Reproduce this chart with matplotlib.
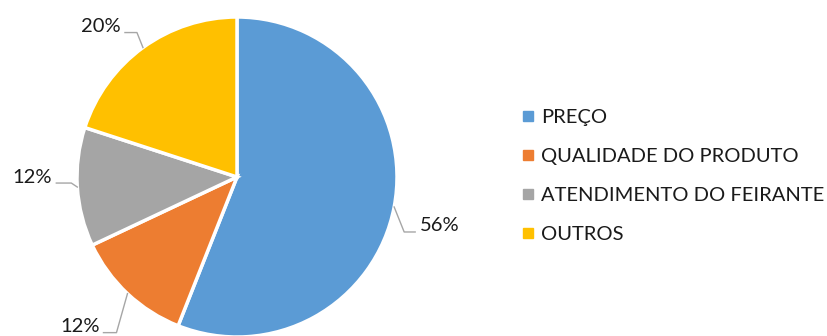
import numpy as np
import matplotlib
matplotlib.use("Agg")
import matplotlib.pyplot as plt
from matplotlib.lines import Line2D

plt.rcParams["font.family"] = ["Lato", "DejaVu Sans"]

categories = ["PREÇO", "QUALIDADE DO PRODUTO", "ATENDIMENTO DO FEIRANTE", "OUTROS"]
shares = [56, 12, 12, 20]
colors = ["#5B9BD5", "#ED7D31", "#A5A5A5", "#FFC000"]

# leader line geometry per label, in pixels: knee offset from wedge edge,
# horizontal run, and which side the text sits on
leaders = [
    ((10, -25), 11, "left"),
    ((-11, -39), -13, "right"),
    ((-6, 4), -15, "right"),
    ((-6, 15), -12, "right"),
]

W, H, DPI = 827, 336, 100
R = 160  # pie radius in pixels
cx, cy = 237, 177
FS = 14.5
TXT = "#1a1a1a"

fig = plt.figure(figsize=(W / DPI, H / DPI), dpi=DPI)
ax = fig.add_axes([(cx - R) / W, (H - cy - R) / H, 2 * R / W, 2 * R / H])

wedges, _ = ax.pie(shares, colors=colors, startangle=90, counterclock=False,
                   radius=1, wedgeprops=dict(edgecolor="white", linewidth=2.5))
ax.set_xlim(-1, 1)
ax.set_ylim(-1, 1)
ax.set_aspect("equal")
ax.axis("off")

for w, val, (knee, run, side) in zip(wedges, shares, leaders):
    mid = np.deg2rad((w.theta1 + w.theta2) / 2)
    ex, ey = np.cos(mid), np.sin(mid)
    kx, ky = ex + knee[0] / R, ey + knee[1] / R
    tx = kx + run / R
    ax.plot([ex, kx, tx], [ey, ky, ky], color="#A6A6A6", lw=1, clip_on=False)
    if side == "left":
        ax.text(tx + 5 / R, ky + 6 / R, f"{val}%", ha="left", va="center",
                fontsize=FS, color=TXT, clip_on=False)
    else:
        ax.text(tx - 4 / R, ky + 6 / R, f"{val}%", ha="right", va="center",
                fontsize=FS, color=TXT, clip_on=False)

handles = [Line2D([], [], marker="s", linestyle="none", markersize=7,
                  markerfacecolor=c, markeredgecolor=c) for c in colors]
fig.legend(handles, categories, loc="center left",
           bbox_to_anchor=(509 / W, 1 - 176 / H), frameon=False,
           fontsize=FS, labelspacing=1.1, handletextpad=0.2,
           handlelength=0.9, borderpad=0, labelcolor=TXT)

fig.savefig("out.png", dpi=DPI)
